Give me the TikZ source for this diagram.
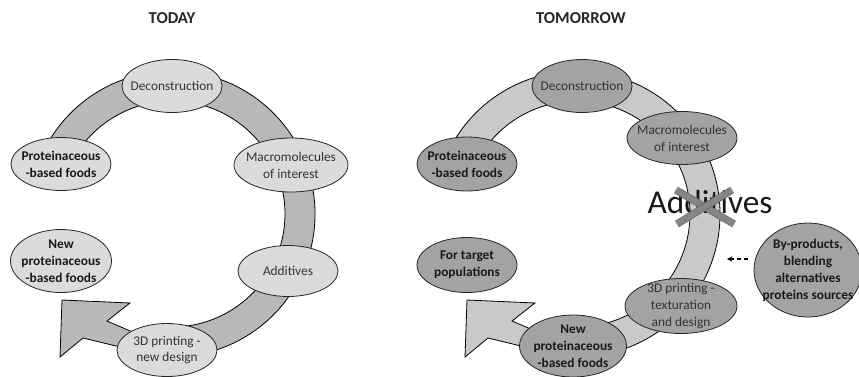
\documentclass[tikz,border=0pt]{standalone}
\usepackage{fontspec}
\setmainfont{Carlito}
\usetikzlibrary{arrows.meta, shapes.geometric}

\definecolor{todayfill}{gray}{0.86}
\definecolor{todayband}{gray}{0.72}
\definecolor{tomfill}{gray}{0.64}
\definecolor{tomband}{gray}{0.79}
\definecolor{crossgray}{gray}{0.52}

\newcommand{\cyclering}[1]{%
  % #1=fill colour; band round (172,214), head at lower left
  \filldraw[fill=#1, draw=black, line width=0.6pt]
    ([shift={(-155:143)}]172,214) arc[start angle=-155, end angle=112, radius=143]
    -- (83,338) -- (60,357) -- (62,300) -- (130,303) -- (107,321) -- (135,333)
    -- ([shift={(100:113)}]172,214) arc[start angle=100, end angle=-155, radius=113]
    -- cycle;
}
\newcommand{\blob}[8]{%
  % #1=name, #2=x, #3=y, #4=width, #5=height (px), #6=shape style, #7=text style, #8=text
  \node[#6, minimum width=#4*0.75pt, minimum height=#5*0.75pt] (#1) at (#2,#3) {};
  \node[#7] (#1-txt) at (#1) {#8};
}

\begin{document}
\begin{tikzpicture}[
  x=0.75pt, y=-0.75pt,
  todayblob/.style={ellipse, draw=black!85, line width=0.6pt, fill=todayfill, inner sep=0pt},
  tomblob/.style={ellipse, draw=black!85, line width=0.6pt, fill=tomfill, inner sep=0pt},
  regtxt/.style={align=center, inner sep=0pt, text=black!80, font=\fontsize{10}{12.7}\selectfont},
  boldtxt/.style={align=center, inner sep=0pt, text=black!90, font=\fontsize{10}{12.7}\selectfont\bfseries},
  title/.style={font=\fontsize{12.5}{15}\selectfont\bfseries, text=black!85},
  crossline/.style={draw=black!60, double=crossgray, double distance=4.5pt, line width=0.5pt},
  dasharr/.style={-{Stealth[length=4pt, width=4pt]}, dashed, dash pattern=on 3pt off 2pt, line width=0.8pt},
]
\useasboundingbox (0,0) rectangle (859,376);
\clip (0,0) rectangle (859,376);

% Titles
\node[title] (today) at (172,18) {TODAY};
\node[title] (tomorrow) at (581,18) {TOMORROW};

% TODAY cycle
\cyclering{todayband}
\blob{dec}{172}{86}{100}{53}{todayblob}{regtxt}{Deconstruction}
\blob{macro}{291}{165}{114}{54}{todayblob}{regtxt}{Macromolecules\\of interest}
\blob{addi}{288}{271}{100}{51}{todayblob}{regtxt}{Additives}
\blob{print}{167}{350}{100}{53}{todayblob}{regtxt}{3D printing -\\new design}
\blob{protein}{61}{164}{100}{53}{todayblob}{boldtxt}{Proteinaceous\\-based foods}
\blob{newprot}{61}{261}{101}{63}{todayblob}{boldtxt}{New\\proteinaceous\\-based foods}

% TOMORROW cycle
\begin{scope}[shift={(405,0)}]
  \cyclering{tomband}
\end{scope}
\blob{decR}{582}{86}{100}{53}{tomblob}{regtxt}{Deconstruction}
\blob{macroR}{682}{138}{110}{53}{tomblob}{regtxt}{Macromolecules\\of interest}
\blob{printR}{681}{306}{112}{55}{tomblob}{regtxt}{3D printing -\\texturation\\and design}
\blob{newprotR}{573}{346}{107}{62}{tomblob}{boldtxt}{New\\proteinaceous\\-based foods}
\blob{proteinR}{467}{164}{100}{54}{tomblob}{boldtxt}{Proteinaceous\\-based foods}
\blob{targetR}{467}{265}{100}{55}{tomblob}{boldtxt}{For target\\populations}
\blob{byprod}{808}{270}{108}{94}{tomblob}{boldtxt}{By-products,\\blending\\alternatives\\proteins sources}

% Struck-out additives
\node[anchor=base, inner sep=0pt, text=black!90, font=\fontsize{25}{30}\selectfont] (addX) at (710,213) {Additives};
\coordinate (xmark) at (705,207);
\draw[crossline] ([shift={(-29,-17)}]xmark) -- ([shift={(29,17)}]xmark);
\draw[crossline] ([shift={(27,-17)}]xmark) -- ([shift={(-28,17)}]xmark);

% New sources feeding in
\coordinate (dashend) at (727,259);
\draw[dasharr] ([shift={(-6,-11)}]byprod.west) -- (dashend);

\end{tikzpicture}
\end{document}
